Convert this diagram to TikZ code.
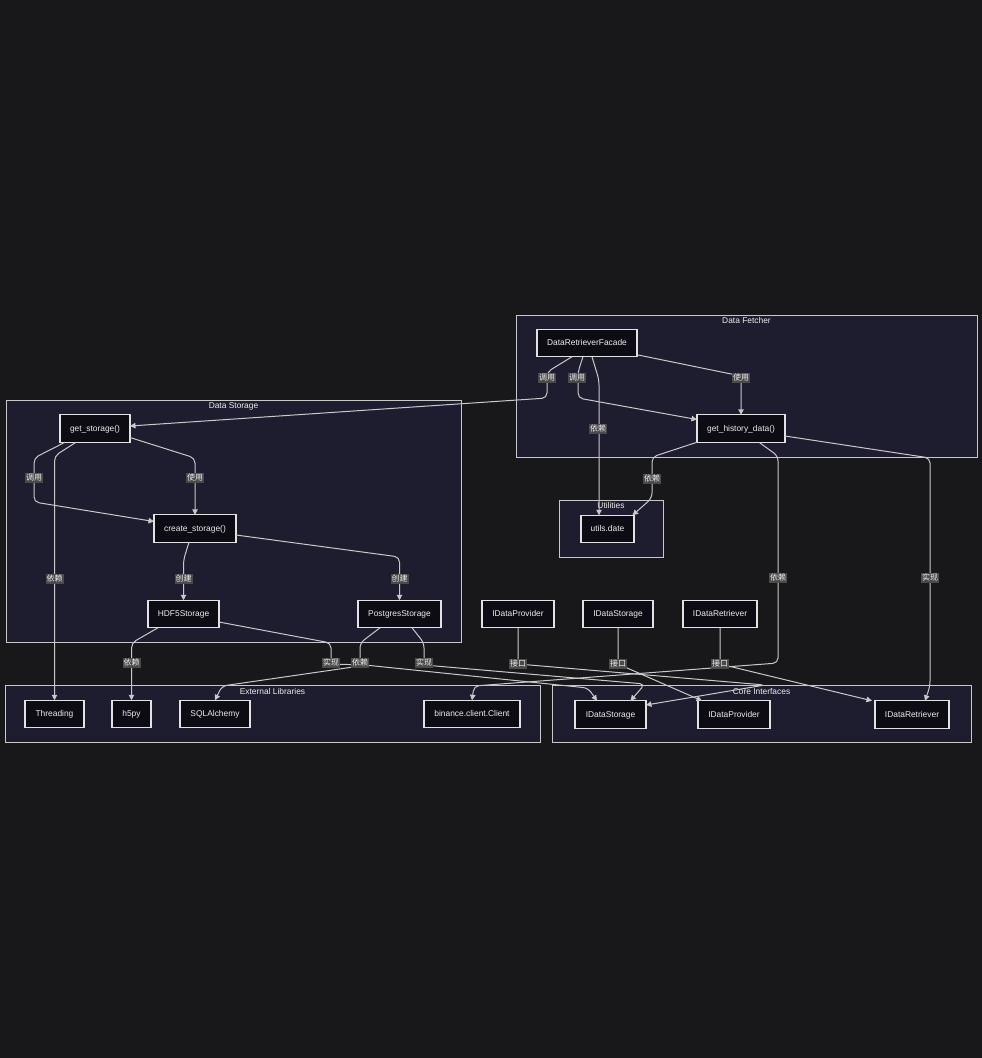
\documentclass[tikz,border=0pt]{standalone}
\usepackage{fontspec}
\setmainfont{Liberation Sans}
\newfontfamily\cjkfont{Noto Sans CJK SC}
\usetikzlibrary{arrows.meta}
\definecolor{bgc}{HTML}{18181B}
\definecolor{clfill}{HTML}{1E1D2F}
\definecolor{clline}{HTML}{C8C8C8}
\definecolor{boxfill}{HTML}{0D0C14}
\definecolor{boxline}{HTML}{E2E2E2}
\definecolor{txt}{HTML}{EDEDED}
\definecolor{edgec}{HTML}{C9C9C9}
\definecolor{lblfill}{HTML}{4A4A4A}
\begin{document}
\begin{tikzpicture}[x=1pt,y=-1pt,
  cluster/.style={draw=clline, fill=clfill, line width=1pt, inner sep=0pt, outer sep=0pt},
  ctitle/.style={text=txt, font=\fontsize{8.4}{10}\selectfont, inner sep=0pt, text height=6.2pt, text depth=1.6pt},
  box/.style={draw=boxline, fill=boxfill, line width=1.2pt, inner sep=0pt, outer sep=0pt,
    minimum height=27.5pt, text=txt, font=\fontsize{8.4}{10}\selectfont, text height=6.2pt, text depth=1pt},
  edge/.style={draw=edgec, line width=1pt, rounded corners=5pt, -{Triangle[length=5.5pt,width=5.5pt]}},
  lbl/.style={fill=lblfill, text=txt, font=\cjkfont\fontsize{8}{9}\selectfont, inner xsep=1pt, inner ysep=1.5pt, text height=6.8pt, text depth=1pt}
]
\useasboundingbox (0,0) rectangle (982,1058);
\fill[bgc] (0,0) rectangle (982,1058);

% clusters
\node[cluster, minimum width=461pt, minimum height=142pt] (cDF) at (746.5,386) {};
\node[ctitle] (tDF) at (746.5,321) {Data Fetcher};
\node[cluster, minimum width=455pt, minimum height=242pt] (cDS) at (233.5,521) {};
\node[ctitle] (tDS) at (233.5,406) {Data Storage};
\node[cluster, minimum width=104pt, minimum height=57pt] (cUT) at (611,528.5) {};
\node[ctitle] (tUT) at (611,506) {Utilities};
\node[cluster, minimum width=535pt, minimum height=57pt] (cEL) at (272.5,713.5) {};
\node[ctitle] (tEL) at (272.5,692) {External Libraries};
\node[cluster, minimum width=419pt, minimum height=57pt] (cCI) at (761.5,713.5) {};
\node[ctitle] (tCI) at (761.5,692) {Core Interfaces};

% nodes
\node[box, minimum width=100pt] (fac) at (587,343) {DataRetrieverFacade};
\node[box, minimum width=88pt] (gh) at (741,428.5) {get\_history\_data()};
\node[box, minimum width=53pt] (ud) at (607.5,529) {utils.date};
\node[box, minimum width=70pt] (gs) at (95,428.5) {get\_storage()};
\node[box, minimum width=82pt] (cs) at (195,528.5) {create\_storage()};
\node[box, minimum width=71pt] (hd) at (183.5,614) {HDF5Storage};
\node[box, minimum width=83pt] (pg) at (399.5,614) {PostgresStorage};
\node[box, minimum width=72pt] (ipt) at (518,614) {IDataProvider};
\node[box, minimum width=70pt] (ist) at (618,614) {IDataStorage};
\node[box, minimum width=74pt] (irt) at (720,614) {IDataRetriever};
\node[box, minimum width=59pt] (th) at (54.5,714) {Threading};
\node[box, minimum width=39pt] (h5) at (131.5,714) {h5py};
\node[box, minimum width=70pt] (sq) at (215,714) {SQLAlchemy};
\node[box, minimum width=96pt] (bn) at (472,714) {binance.client.Client};
\node[box, minimum width=71pt] (cis) at (610.5,714.5) {IDataStorage};
\node[box, minimum width=72pt] (cip) at (734,714.5) {IDataProvider};
\node[box, minimum width=74pt] (cir) at (912,714.5) {IDataRetriever};

% edges
\draw[edge] ([xshift=-15pt]fac.south) -- (547,372) -- (547,398) -- ([yshift=2.5pt]gs.east);
\draw[edge] ([xshift=-4pt]fac.south) -- (578,372) -- (578,398) -- ([yshift=9pt]gh.west);
\draw[edge] ([xshift=5pt]fac.south) -- (599,380) -- ([xshift=-8.5pt]ud.north);
\draw[edge] ([yshift=2pt]fac.south east) -- (741,376) -- (gh.north);
\draw[edge] (gh.south west) -- (652,457) -- (652,498) -- ([xshift=25pt]ud.north);
\draw[edge] ([xshift=18pt]gh.south) -- (778,456) -- (778,663) -- (474,686) -- (bn.north);
\draw[edge] ([yshift=-7.5pt]gh.east) -- (930,458) -- (930,686) -- ([xshift=13pt]cir.north);
\draw[edge] ([xshift=-30pt]gs.south) -- (34,458) -- (34,502) -- ([yshift=7pt]cs.west);
\draw[edge] ([yshift=-9pt]gs.east) -- (195,458) -- (cs.north);
\draw[edge] ([xshift=-19pt]gs.south) -- (54.5,456) -- (th.north);
\draw[edge] ([xshift=-6pt]cs.south) -- (183.5,560) -- (hd.north);
\draw[edge] ([yshift=-6.5pt]cs.east) -- (399.5,557) -- (pg.north);
\draw[edge] ([xshift=-25.5pt]hd.south) -- (131.5,643) -- (h5.north);
\draw[edge] ([yshift=-8pt]hd.east) -- (331,643) -- (331,664) -- (365,665) -- (588,688) -- ([xshift=-13.5pt]cis.north);
\draw[edge] ([xshift=-19.5pt]pg.south) -- (360,643) -- (360,666) -- (222,686) -- (sq.north);
\draw[edge] ([xshift=12.5pt]pg.south) -- (424,643) -- (424,665) -- (645,684) -- ([xshift=20pt]cis.north);
\draw[edge] (ipt.south) -- (518,664) -- (765,685) -- ([yshift=9.5pt]cis.east);
\draw[edge] (ist.south) -- (618,664) -- ([xshift=-32pt]cip.north);
\draw[edge] (irt.south) -- (720,664) -- ([xshift=-40pt]cir.north);

% labels
\node[lbl] (l1) at (547,378) {调用};
\node[lbl] (l2) at (577,378) {调用};
\node[lbl] (l3) at (598,429) {依赖};
\node[lbl] (l4) at (741,378) {使用};
\node[lbl] (l5) at (652,479) {依赖};
\node[lbl] (l6) at (778,578) {依赖};
\node[lbl] (l7) at (930,578) {实现};
\node[lbl] (l8) at (34,478) {调用};
\node[lbl] (l9) at (195,478) {使用};
\node[lbl] (l10) at (54.5,579) {依赖};
\node[lbl] (l11) at (183.5,579) {创建};
\node[lbl] (l12) at (399.5,579) {创建};
\node[lbl] (l13) at (131.5,663) {依赖};
\node[lbl] (l14) at (331,663) {实现};
\node[lbl] (l15) at (360,663) {依赖};
\node[lbl] (l16) at (424,663) {实现};
\node[lbl] (l17) at (518,664) {接口};
\node[lbl] (l18) at (618,664) {接口};
\node[lbl] (l19) at (720,664) {接口};
\end{tikzpicture}
\end{document}
